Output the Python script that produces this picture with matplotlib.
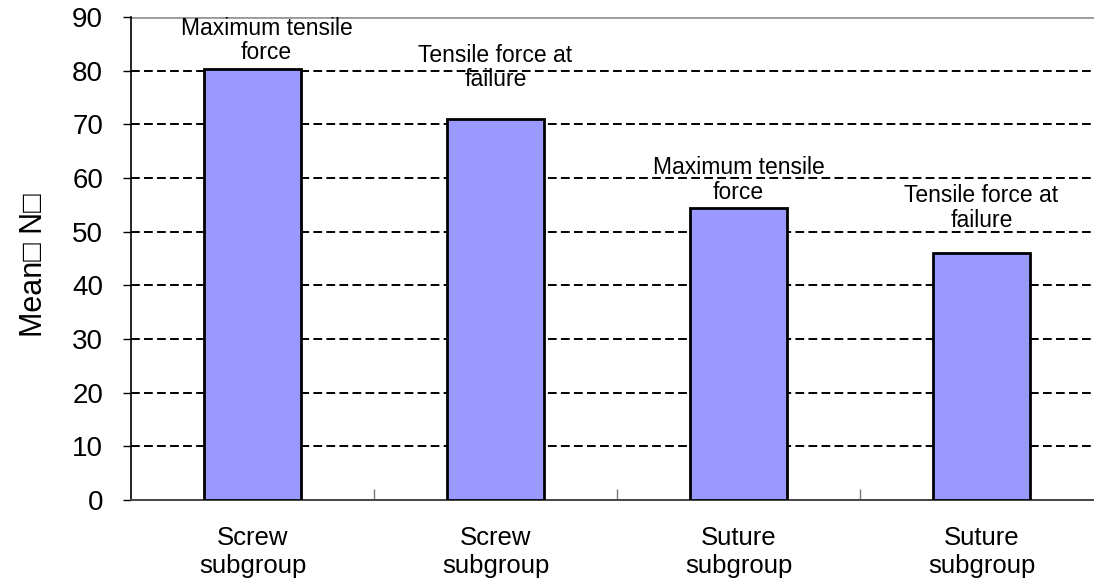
import matplotlib
matplotlib.use("Agg")
import matplotlib.pyplot as plt
from matplotlib.ticker import FixedLocator

plt.rcParams['font.family'] = ['Liberation Sans', 'DejaVu Sans']

# Data
categories = ["Screw\nsubgroup", "Screw\nsubgroup", "Suture\nsubgroup", "Suture\nsubgroup"]
bar_labels = ["Maximum tensile\nforce", "Tensile force at\nfailure",
              "Maximum tensile\nforce", "Tensile force at\nfailure"]
mean_force = [80.4, 71.0, 54.5, 46.0]
y_ticks = [0, 10, 20, 30, 40, 50, 60, 70, 80, 90]

# Layout of the bar captions (offset from bar centre, data-space height)
caption_dx = [0.058, 0.0, 0.0, 0.0]
caption_y = [85.6, 80.6, 59.6, 54.4]

W, H = 1094, 580
fig = plt.figure(figsize=(W / 100, H / 100), dpi=100)
left, right_px, top, bottom = 131, 1094, 17, 500
ax = fig.add_axes([left / W, (H - bottom) / H, (right_px - left) / W, (bottom - top) / H])

x = list(range(len(mean_force)))
ax.bar(x, mean_force, width=0.4, color="#9999FF", edgecolor="black",
       linewidth=2.0, zorder=3)

ax.set_xlim(-0.5, -0.5 + (right_px - left) / 243.0)
ax.set_ylim(0, 90)

# Horizontal dashed gridlines
for v in y_ticks[1:-1]:
    ax.axhline(v, color="black", linestyle=(0, (4.5, 2.2)), linewidth=1.4, zorder=1)
ax.axhline(90, color="#999999", linestyle="-", linewidth=2.0, zorder=1)

# Captions above bars
for xi, dx, txt, cy in zip(x, caption_dx, bar_labels, caption_y):
    ax.text(xi + dx, cy, txt, ha="center", va="center", fontsize=16.5,
            linespacing=1.08, zorder=4)

# Axes styling
for s in ["top", "right"]:
    ax.spines[s].set_visible(False)
ax.spines["left"].set_color("black")
ax.spines["left"].set_linewidth(1.2)
ax.spines["bottom"].set_color("#444444")
ax.spines["bottom"].set_linewidth(1.4)

ax.set_yticks(y_ticks)
ax.tick_params(axis="y", direction="out", length=6, width=1.0, pad=14,
               labelsize=20)

ax.set_xticks(x)
ax.set_xticklabels(categories, fontsize=18.5, linespacing=1.2)
ax.tick_params(axis="x", which="major", length=0, pad=19)
ax.xaxis.set_minor_locator(FixedLocator([0.5, 1.5, 2.5]))
ax.tick_params(axis="x", which="minor", direction="in", length=8, width=1.0,
               color="#777777")

ax.set_ylabel("Mean\u25a1 N\u25a1", fontsize=22)
ax.yaxis.set_label_coords(-0.085, 0.485)

fig.savefig("out.png", dpi=100)
